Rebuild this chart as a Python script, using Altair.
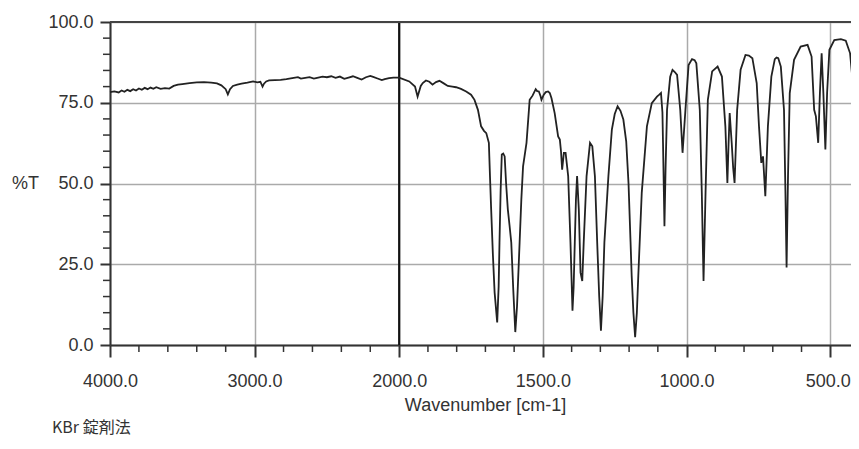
import altair as alt
import pandas as pd

# IR spectrum (wavenumber cm-1, %T)
wavenumber = [
    4000, 3970, 3940, 3920, 3900, 3880, 3860, 3840, 3820, 3800, 3780, 3760, 3740, 3720, 3700,
    3680, 3650, 3620, 3590, 3560, 3530, 3500, 3450, 3400, 3350, 3300, 3260, 3230, 3200, 3185,
    3170, 3150, 3120, 3090, 3050, 3010, 2980, 2960, 2945, 2935, 2920, 2900, 2860, 2820, 2780,
    2740, 2700, 2680, 2650, 2620, 2590, 2560, 2530, 2500, 2470, 2440, 2410, 2380, 2350, 2320,
    2290, 2260, 2230, 2200, 2180, 2150, 2120, 2100, 2070, 2040, 2000,
    1965, 1945, 1936, 1925, 1918, 1907, 1895, 1884, 1872, 1860, 1845, 1831, 1815, 1802, 1785,
    1767, 1750, 1738, 1726, 1715, 1705, 1697, 1688, 1684, 1680, 1674, 1668, 1659, 1654, 1651,
    1647, 1643, 1638, 1633, 1628, 1622, 1616, 1610, 1603, 1596, 1590, 1581, 1575, 1569, 1557,
    1546, 1536, 1525, 1520, 1514, 1508, 1505, 1497, 1490, 1482, 1476, 1470, 1459, 1447, 1441,
    1437, 1433, 1427, 1421, 1412, 1404, 1397, 1393, 1389, 1385, 1381, 1375, 1369, 1363, 1358,
    1348, 1336, 1328, 1319, 1311, 1304, 1298, 1292, 1286, 1272, 1260, 1250, 1240, 1230, 1220,
    1210, 1202, 1195, 1191, 1185, 1179, 1173, 1168, 1156, 1138, 1121, 1103, 1095, 1089, 1084,
    1082, 1077, 1073, 1068, 1057, 1049, 1041, 1033, 1022, 1014, 1004, 993, 981, 972, 966,
    954, 947, 941, 934, 926, 911, 892, 877, 865, 858, 854, 850, 843, 838, 833,
    824, 812, 795, 783, 771, 756, 748, 740, 734, 726, 717, 705, 693, 687, 681,
    672, 661, 656, 652, 647, 641, 626, 603, 579, 565, 556, 550, 542, 536, 530,
    524, 517, 511, 503, 486, 463, 446, 431, 423, 412, 404,
]
transmittance = [
    78.3, 78.5, 78.2, 78.8, 78.4, 79.0, 78.6, 79.2, 78.8, 79.4, 79.0, 79.6, 79.2, 79.7, 79.3,
    79.8, 79.3, 79.5, 79.4, 80.2, 80.6, 80.8, 81.1, 81.3, 81.4, 81.2, 81.0, 80.4, 79.2, 77.6,
    79.2, 80.2, 80.6, 80.9, 81.2, 81.6, 81.3, 81.5, 80.0, 80.9, 81.6, 81.9, 82.0, 82.1, 82.3,
    82.6, 82.9, 82.5, 82.7, 82.9, 82.5, 82.8, 83.1, 82.9, 83.2, 82.7, 83.1, 82.4, 82.8, 83.2,
    82.7, 82.2, 82.9, 83.3, 83.0, 82.5, 82.0, 82.3, 82.6, 82.8, 82.8,
    81.6, 80.0, 76.9, 80.2, 81.1, 81.9, 81.5, 80.6, 81.4, 81.8, 81.0, 80.2, 80.0, 79.8, 79.3,
    78.5, 77.5, 75.9, 72.8, 67.7, 66.3, 65.6, 62.6, 52.0, 42.0, 28.0, 16.3, 7.0, 18.0, 31.7,
    48.0, 59.0, 59.3, 58.4, 50.0, 42.0, 37.0, 31.7, 17.0, 4.0, 12.0, 31.7, 45.0, 55.3, 62.6,
    75.9, 77.2, 79.2, 78.6, 78.5, 77.0, 75.9, 77.5, 78.3, 78.5, 78.0, 76.4, 71.8, 64.6, 63.6,
    60.0, 54.3, 59.5, 59.5, 52.3, 31.7, 10.6, 18.0, 31.7, 45.0, 52.3, 42.0, 22.4, 19.8, 31.7,
    52.3, 62.6, 61.5, 52.3, 31.7, 15.0, 4.4, 15.0, 31.7, 52.3, 66.7, 71.5, 73.9, 72.5, 69.8,
    63.0, 50.0, 32.0, 21.4, 10.0, 2.4, 10.0, 21.4, 47.1, 67.7, 74.9, 76.9, 77.5, 78.0, 72.0,
    62.6, 36.8, 55.0, 72.8, 83.1, 85.2, 84.5, 83.6, 72.8, 59.5, 72.8, 86.7, 88.5, 88.2, 87.2,
    72.8, 47.1, 19.8, 47.1, 75.9, 84.7, 86.2, 83.1, 67.7, 50.2, 62.0, 71.8, 62.6, 55.0, 50.2,
    72.8, 85.2, 89.8, 89.6, 88.8, 81.1, 67.7, 56.4, 58.4, 46.1, 67.7, 83.1, 88.5, 89.0, 88.8,
    86.2, 72.8, 47.1, 24.0, 52.3, 78.0, 88.3, 92.4, 92.9, 89.3, 72.8, 70.8, 62.6, 78.0, 90.3,
    78.0, 60.5, 78.0, 91.4, 94.4, 94.7, 94.2, 90.3, 82.6, 89.3, 93.4,
]

x_major = [4000, 3000, 2000, 1500, 1000, 500]
x_minor = [3800, 3600, 3400, 3200, 2800, 2600, 2400, 2200,
           1900, 1800, 1700, 1600, 1400, 1300, 1200, 1100, 900, 800, 700, 600]
y_major = [0, 25, 50, 75, 100]
y_minor = [5, 10, 15, 20, 30, 35, 40, 45, 55, 60, 65, 70, 80, 85, 90, 95]
divider = [2000]
top_border = [100]
note = ["KBr 錠剤法"]

spec = pd.DataFrame({"wn": wavenumber, "T": transmittance})
xminor_df = pd.DataFrame({"wn": x_minor})
yminor_df = pd.DataFrame({"T": y_minor})
div_df = pd.DataFrame({"wn": divider})
top_df = pd.DataFrame({"T": top_border})
note_df = pd.DataFrame({"label": note})

W, H = 741, 323
R_END = 749  # pixel where 400 cm-1 would fall (plot continues past the page edge)
FONT = "Liberation Sans"
INK = "#333333"

xscale = alt.Scale(domain=[4000, 2000, 400], range=[0, 289.2, R_END], nice=False, zero=False)
yscale = alt.Scale(domain=[0, 100], nice=False, zero=False)

xaxis = alt.Axis(
    values=x_major, format=".1f", grid=True, gridColor="#aaaaaa", gridWidth=1.5,
    tickSize=12, tickWidth=2, tickColor=INK, domainColor=INK, domainWidth=2,
    labelFont=FONT, labelFontSize=18, labelColor=INK, labelPadding=15,
    labelOverlap=False, labelFlush=False,
    labelAlign=alt.expr("datum.value == 500 ? 'right' : 'center'"),
    labelOffset=alt.expr("datum.value == 500 ? 20 : 0"),
    title="Wavenumber [cm-1]", titleFont=FONT, titleFontSize=18, titleFontWeight="normal",
    titleColor=INK, titleX=375, titleY=60, titleAlign="center", titleBaseline="middle",
)
yaxis = alt.Axis(
    values=y_major, format=".1f", grid=True, gridColor="#aaaaaa", gridWidth=1.5,
    tickSize=10, tickWidth=2, tickColor=INK, domainColor=INK, domainWidth=2,
    labelFont=FONT, labelFontSize=18, labelColor=INK, labelPadding=7,
    labelOverlap=False, labelFlush=False,
    title="%T", titleFont=FONT, titleFontSize=18, titleFontWeight="normal",
    titleColor=INK, titleAngle=0, titleX=-85, titleY=H / 2,
    titleAlign="center", titleBaseline="middle",
)

line = alt.Chart(spec).mark_line(color="#222222", strokeWidth=1.8).encode(
    x=alt.X("wn:Q", scale=xscale, axis=xaxis),
    y=alt.Y("T:Q", scale=yscale, axis=yaxis),
)

div_rule = alt.Chart(div_df).mark_rule(color="#111111", strokeWidth=2.2).encode(
    x=alt.X("wn:Q", scale=xscale),
)

top_rule = alt.Chart(top_df).mark_rule(color="#444444", strokeWidth=2).encode(
    y=alt.Y("T:Q", scale=yscale),
    x=alt.value(0),
    x2=alt.value(R_END),
)

xminor = alt.Chart(xminor_df).mark_rule(color=INK, strokeWidth=1.5).encode(
    x=alt.X("wn:Q", scale=xscale),
    y=alt.value(H),
    y2=alt.value(H + 7),
)

yminor = alt.Chart(yminor_df).mark_rule(color=INK, strokeWidth=1.5).encode(
    y=alt.Y("T:Q", scale=yscale),
    x=alt.value(-7),
    x2=alt.value(0),
)

note_text = alt.Chart(note_df).mark_text(
    align="left", baseline="middle", font="Noto Sans CJK JP", fontSize=16, color=INK
).encode(
    x=alt.value(-58),
    y=alt.value(406),
    text="label:N",
)

chart = alt.layer(div_rule, top_rule, xminor, yminor, line, note_text).properties(
    width=W,
    height=H,
    autosize=alt.AutoSizeParams(type="none"),
    padding={"left": 102, "top": 14, "right": 0, "bottom": 96},
).configure_view(strokeWidth=0)

chart.save("out.html", embed_options={"renderer": "svg", "actions": False})
